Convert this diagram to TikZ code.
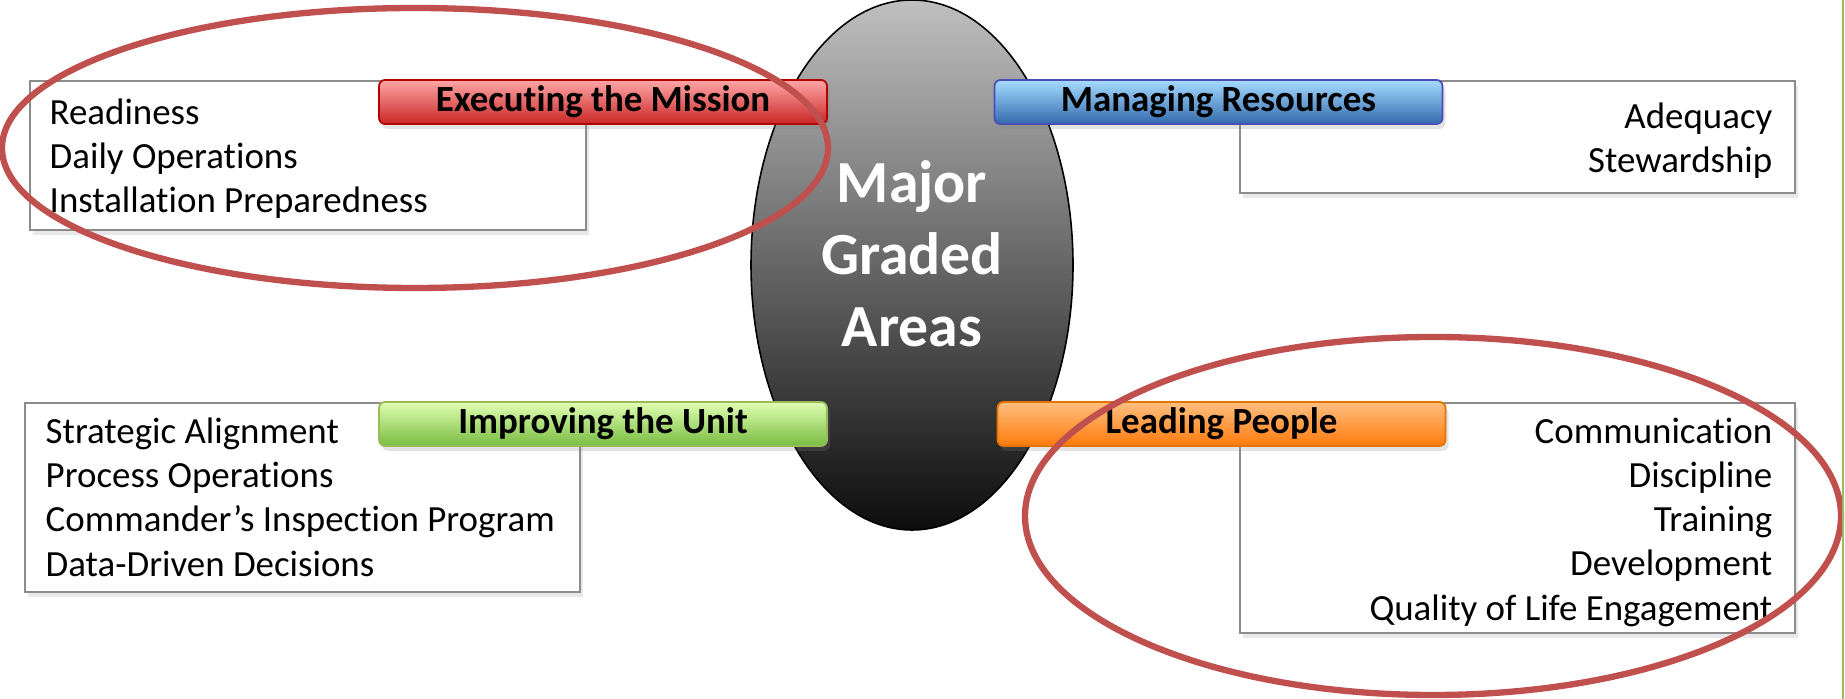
\documentclass[tikz,border=0pt]{standalone}
\usepackage{fontspec}
\setmainfont{Carlito}[Ligatures=NoCommon]
\usetikzlibrary{shapes.geometric}
\usetikzlibrary{shadows}

\definecolor{ringred}{HTML}{C0504D}
\definecolor{edgegreen}{HTML}{9BBB59}

\begin{document}
\begin{tikzpicture}[x=1cm,y=1cm,
    listbox/.style={draw=black!45, line width=0.6pt, fill=white, anchor=north west,
        drop shadow={opacity=0.18, shadow xshift=0.03, shadow yshift=-0.05}},
    tag/.style n args={3}{rounded corners=0.06cm, draw=#1, line width=0.5pt,
        top color=#2, bottom color=#3, minimum width=4.48cm, minimum height=0.44cm,
        inner sep=0pt, font=\fontsize{10.5}{12.6}\selectfont\bfseries,
        drop shadow={opacity=0.22, shadow xshift=0.03, shadow yshift=-0.05}},
    items/.style={inner sep=0pt, font=\fontsize{10.5}{12.6}\selectfont},
    ring/.style={draw=ringred, line width=1.8pt}]
    \useasboundingbox (0,0) rectangle (18.45,6.99);

    % centre
    \node[ellipse, draw=black, line width=0.45pt, minimum width=3.22cm, minimum height=5.3cm,
        top color=black!25, bottom color=black!95] (core) at (9.12,4.34) {};
    \node[text=white, align=center, font=\fontsize{17}{20.5}\selectfont\bfseries] (coretext) at (9.12,4.45)
        {Major\\Graded\\Areas};

    % boxes
    \node[listbox, minimum width=5.56cm, minimum height=1.49cm] (execbox) at (0.29,6.19) {};
    \node[listbox, minimum width=5.55cm, minimum height=1.12cm] (resbox) at (12.39,6.19) {};
    \node[listbox, minimum width=5.55cm, minimum height=1.89cm] (unitbox) at (0.24,2.97) {};
    \node[listbox, minimum width=5.55cm, minimum height=2.30cm] (peoplebox) at (12.39,2.97) {};

    % labels
    \node[tag={red!70!black}{red!35!white}{red!75!black!85!white}] (exec) at (6.03,5.97) {Executing the Mission};
    \node[tag={blue!60!black!70!white}{blue!40!cyan!35!white}{blue!55!cyan!60!black!80!white}] (res) at (12.185,5.97) {Managing Resources};
    \node[tag={edgegreen}{green!40!yellow!30!white}{green!55!yellow!65!black!75!white}] (unit) at (6.03,2.75) {Improving the Unit};
    \node[tag={orange!90!black}{orange!50!white}{orange!90!red!95!white}] (people) at (12.215,2.75) {Leading People};

    % lists
    \node[items, align=left, anchor=north west] (execlist) at (0.49,6.01)
        {Readiness\\Daily Operations\\Installation Preparedness};
    \node[items, align=right, anchor=north east] (reslist) at (17.73,5.97)
        {Adequacy\\Stewardship};
    \node[items, align=left, anchor=north west] (unitlist) at (0.45,2.82)
        {Strategic Alignment\\Process Operations\\Commander’s Inspection Program\\Data-Driven Decisions};
    \node[items, align=right, anchor=north east] (peoplelist) at (17.73,2.82)
        {Communication\\Discipline\\Training\\Development\\Quality of Life Engagement};

    % rings
    \draw[ring] (4.15,5.51) ellipse [x radius=4.13, y radius=1.40];
    \draw[ring] (14.33,1.83) ellipse [x radius=4.08, y radius=1.79];

    \draw[edgegreen, line width=0.5pt] (18.43,0) -- (18.43,6.99);
\end{tikzpicture}
\end{document}
